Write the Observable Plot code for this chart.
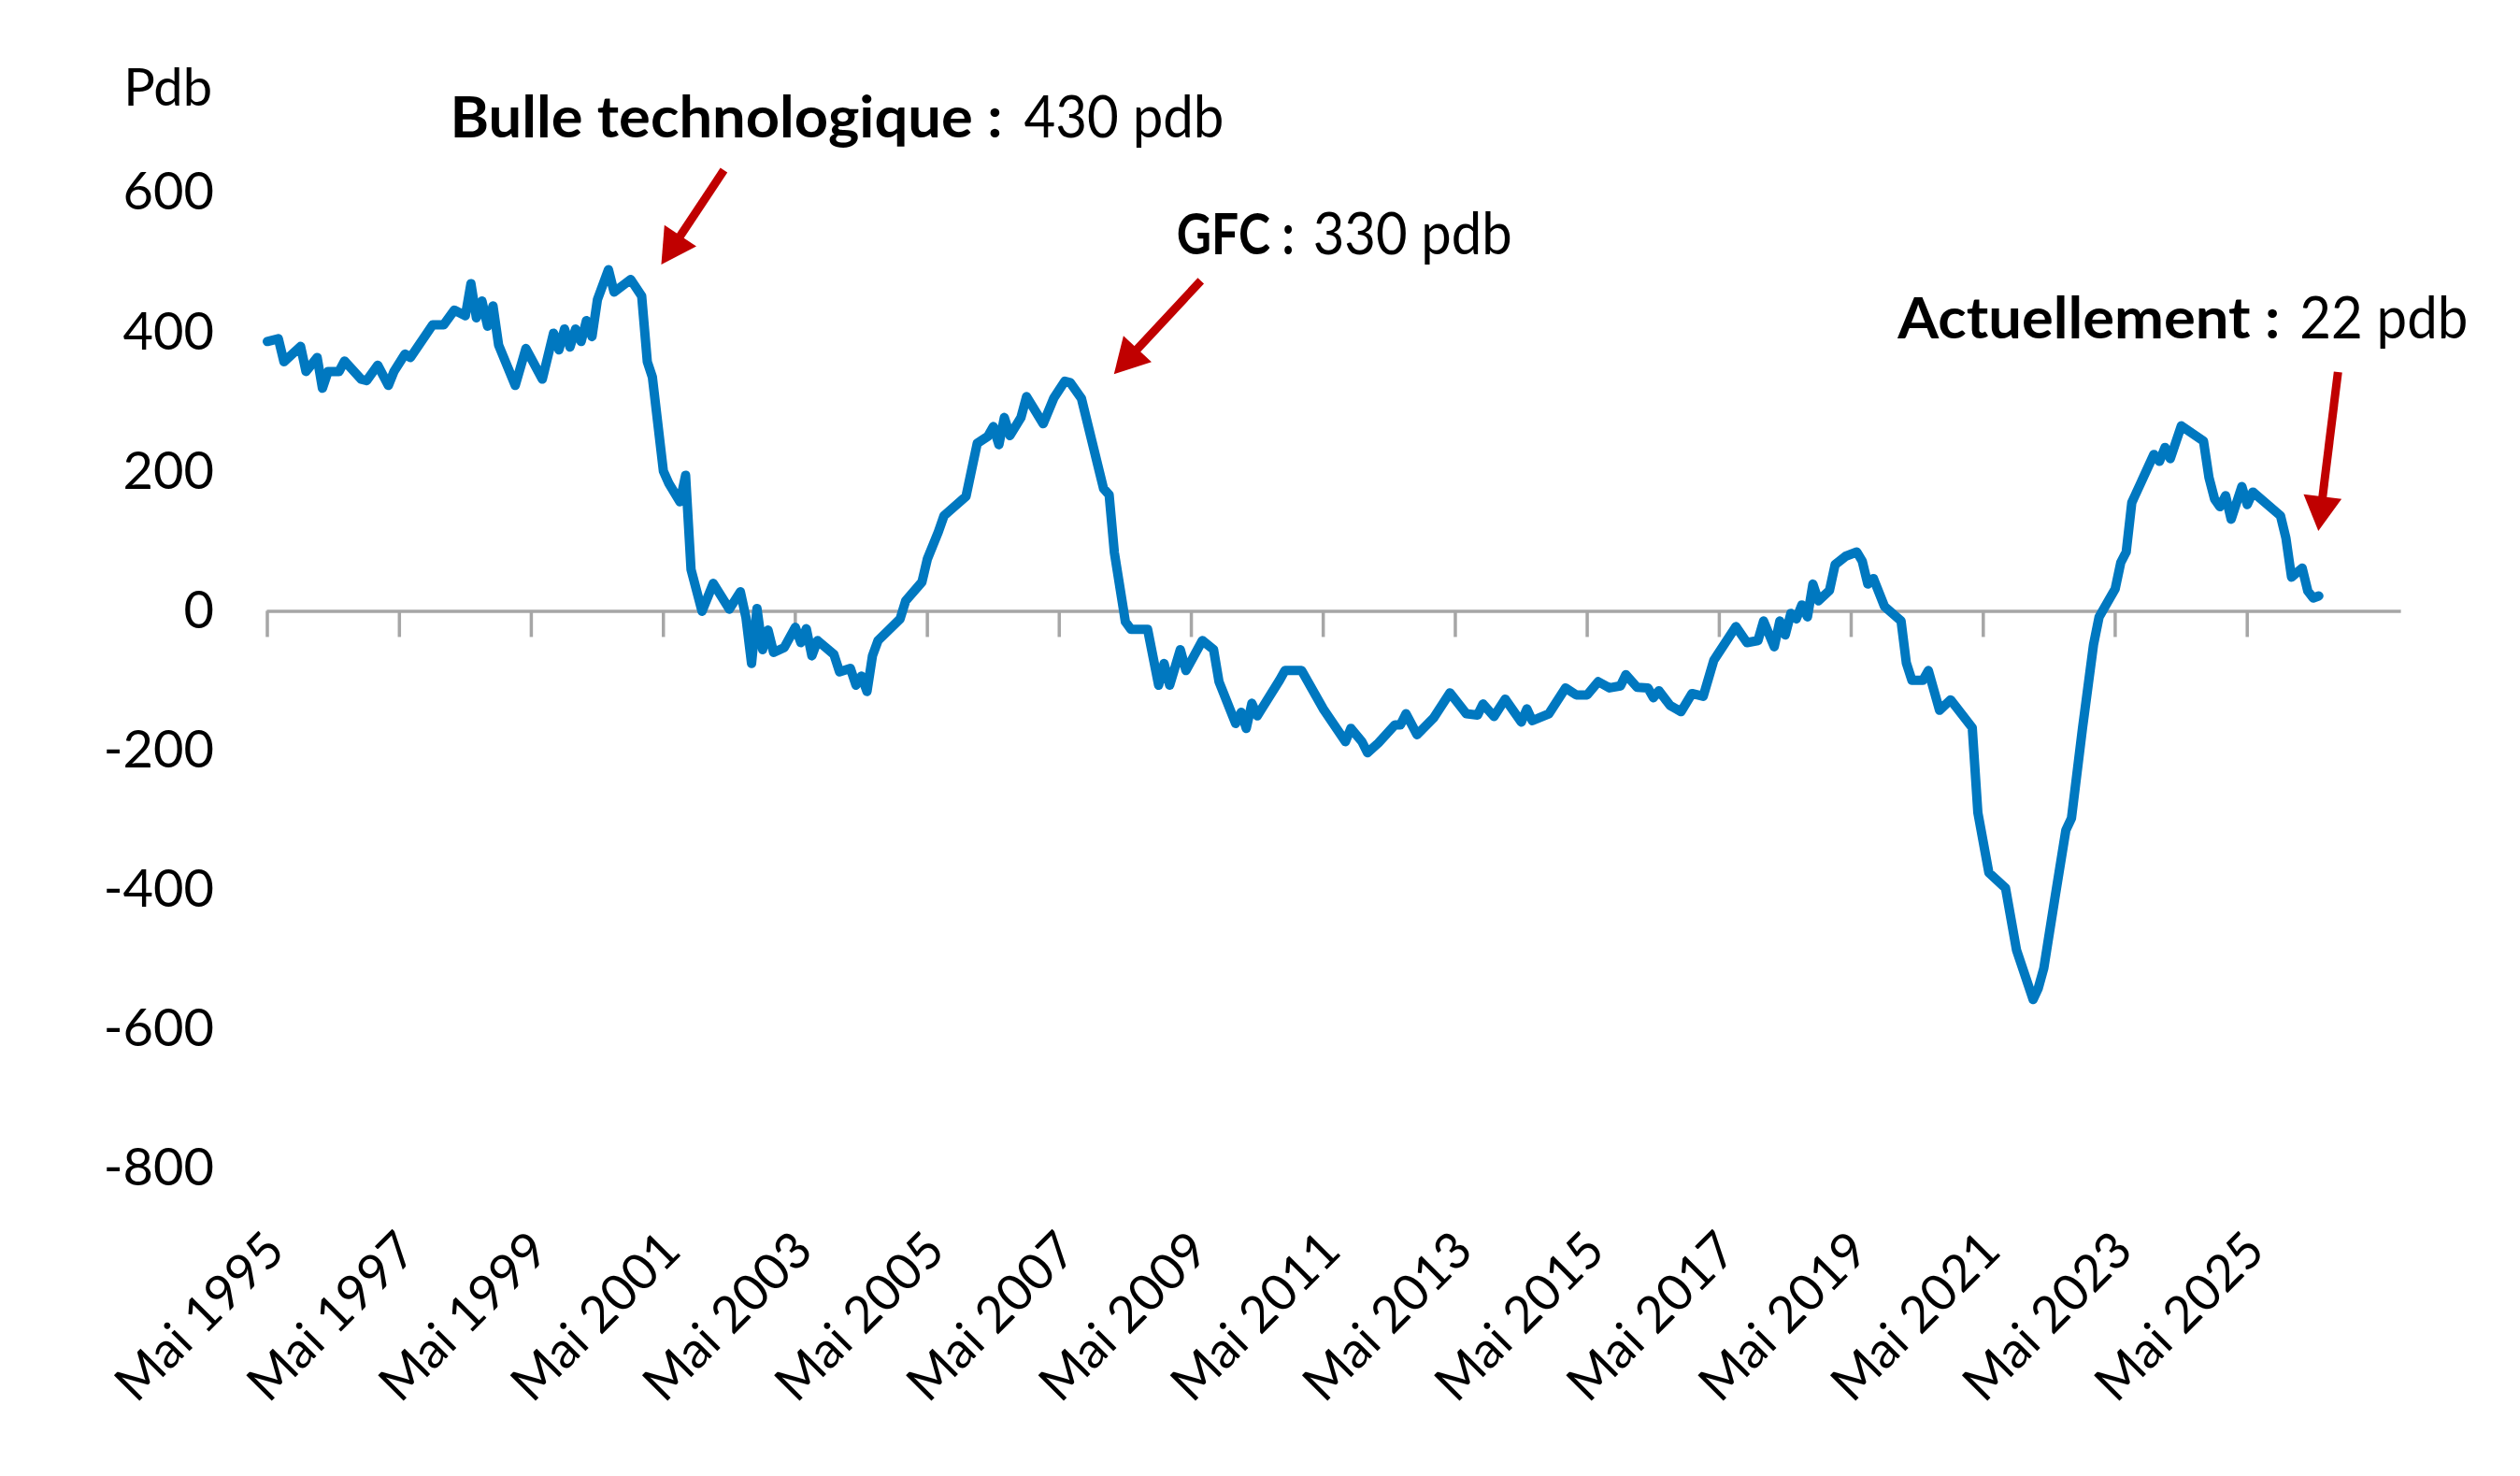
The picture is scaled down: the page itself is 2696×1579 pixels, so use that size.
<!DOCTYPE html>
<html lang="fr">
<head>
<meta charset="utf-8">
<title>Écart en pdb depuis 1995</title>
<script src="https://cdn.jsdelivr.net/npm/d3@7"></script>
<script src="https://cdn.jsdelivr.net/npm/@observablehq/plot@0.6"></script>
<style>
  html, body { margin: 0; padding: 0; background: #ffffff; }
  #chart svg { display: block; }
</style>
</head>
<body>
<div id="chart"></div>
<script>
// Monthly spread, in basis points (pdb)
const months = [
  "1995-05","1995-07","1995-08","1995-11","1995-12","1996-02","1996-03","1996-04","1996-06","1996-07",
  "1996-10","1996-11","1997-01","1997-03","1997-04","1997-06","1997-07","1997-11","1998-01","1998-03",
  "1998-05","1998-06","1998-07","1998-08","1998-09","1998-10","1998-11","1999-02","1999-04","1999-07",
  "1999-09","1999-10","1999-11","1999-12","2000-01","2000-02","2000-03","2000-04","2000-05","2000-07",
  "2000-08","2000-11","2001-01","2001-02","2001-03","2001-05","2001-06","2001-08","2001-09","2001-10",
  "2001-12","2002-02","2002-05","2002-07","2002-08","2002-09","2002-10","2002-11","2002-12","2003-01",
  "2003-03","2003-05","2003-06","2003-07","2003-08","2003-09","2003-12","2004-01","2004-03","2004-04",
  "2004-05","2004-06","2004-07","2004-08","2004-12","2005-01","2005-04","2005-05","2005-07","2005-08",
  "2005-12","2006-02","2006-04","2006-05","2006-06","2006-07","2006-08","2006-10","2006-11","2007-02",
  "2007-04","2007-06","2007-07","2007-09","2008-01","2008-02","2008-03","2008-05","2008-06","2008-09",
  "2008-11","2008-12","2009-01","2009-03","2009-04","2009-07","2009-09","2009-10","2010-01","2010-02",
  "2010-03","2010-04","2010-05","2010-09","2010-10","2011-01","2011-05","2011-09","2011-10","2011-12",
  "2012-01","2012-03","2012-06","2012-07","2012-08","2012-10","2013-01","2013-04","2013-07","2013-09",
  "2013-10","2013-12","2014-02","2014-05","2014-06","2014-07","2014-10","2015-01","2015-03","2015-05",
  "2015-07","2015-09","2015-11","2015-12","2016-02","2016-04","2016-05","2016-06","2016-08","2016-10",
  "2016-12","2017-02","2017-04","2017-08","2017-10","2017-12","2018-01","2018-03","2018-04","2018-05",
  "2018-06","2018-07","2018-08","2018-09","2018-10","2018-11","2019-01","2019-02","2019-04","2019-06",
  "2019-07","2019-08","2019-09","2019-11","2020-02","2020-03","2020-04","2020-06","2020-07","2020-09",
  "2020-11","2021-03","2021-04","2021-06","2021-09","2021-11","2022-02","2022-03","2022-04","2022-06",
  "2022-08","2022-09","2022-11","2023-01","2023-02","2023-05","2023-06","2023-07","2023-08","2023-12",
  "2024-01","2024-02","2024-03","2024-05","2024-09","2024-10","2024-11","2024-12","2025-01","2025-02",
  "2025-04","2025-05","2025-06","2025-11","2025-12","2026-01","2026-03","2026-04","2026-05","2026-06"
];
const spread = [
  387, 391, 358, 380, 344, 364, 320, 344, 344, 359,
  333, 331, 353, 324, 344, 369, 364, 411, 411, 432,
  424, 470, 421, 445, 409, 438, 382, 324, 377, 333,
  399, 375, 405, 379, 405, 387, 417, 394, 447, 490,
  458, 476, 452, 358, 336, 201, 183, 157, 195, 60,
  0, 40, 3, 28, -9, -75, 4, -55, -27, -59,
  -52, -23, -45, -25, -64, -42, -62, -87, -82, -106,
  -93, -115, -64, -42, -11, 15, 42, 75, 114, 137,
  165, 241, 251, 265, 239, 278, 252, 278, 308, 269,
  306, 330, 328, 305, 176, 167, 84, -15, -26, -26,
  -106, -75, -106, -55, -85, -42, -55, -101, -161, -145,
  -168, -132, -150, -99, -85, -85, -140, -187, -168, -187,
  -203, -189, -163, -163, -147, -177, -153, -117, -147, -149,
  -133, -151, -126, -159, -140, -157, -147, -110, -120, -120,
  -101, -110, -107, -91, -109, -110, -124, -114, -135, -144,
  -118, -122, -70, -22, -45, -42, -14, -51, -14, -34,
  -3, -11, 9, -8, 39, 15, 30, 67, 79, 85,
  72, 39, 47, 7, -14, -74, -99, -99, -85, -142,
  -127, -167, -289, -375, -397, -486, -557, -541, -512, -412,
  -314, -297, -168, -48, -8, 32, 70, 85, 156, 225,
  215, 235, 219, 266, 244, 192, 161, 150, 166, 132,
  179, 153, 171, 137, 105, 49, 62, 29, 19, 22
];

// Axis ticks
const yTicks = [600, 400, 200, 0, -200, -400, -600, -800];
const tickYears = [1995, 1997, 1999, 2001, 2003, 2005, 2007, 2009, 2011, 2013, 2015, 2017, 2019, 2021, 2023, 2025];
const tickMonthName = "Mai";
const unitLabel = "Pdb";

// Callouts: the month they point at and their two-part label
const callouts = [
  {month: "2000-07", title: "Bulle technologique :", figure: "430 pdb"},
  {month: "2007-06", title: "GFC :", figure: "330 pdb"},
  {month: "2026-06", title: "Actuellement :", figure: "22 pdb"}
];

// ---- derived table ----
const parseMonth = d3.utcParse("%Y-%m");
const series = months.map((m, i) => ({date: parseMonth(m), value: spread[i]}));
const valueAt = m => spread[months.indexOf(m)];

// ---- styles ----
const BLUE = "#0078C0";
const GREY = "#A6A6A6";
const RED = "#C00000";
const FONT = "Lato, 'Open Sans', 'Liberation Sans', sans-serif";

// Pixel placement of each callout, relative to the point it refers to
const calloutLayout = [
  {titleDx: -169, titleW: 591, figureDx: 445, figureW: 214, dy: -141, tail: [124, -106], tip: [57, -5]},
  {titleDx: 120, titleW: 126, figureDx: 266, figureW: 213, dy: -135, tail: [146, -107], tip: [53, -7]},
  {titleDx: -450, titleW: 409, figureDx: -20, figureW: 180, dy: -275, tail: [21, -239], tip: [0, -69]}
];

function calloutMark(note, layout) {
  return (index, scales) => {
    const px = scales.x(parseMonth(note.month));
    const py = scales.y(valueAt(note.month));
    const g = d3.create("svg:g").attr("text-anchor", "start");

    // arrow: straight shaft with a filled triangular head
    const tx = px + layout.tail[0], ty = py + layout.tail[1];
    const hx = px + layout.tip[0], hy = py + layout.tip[1];
    const len = Math.hypot(hx - tx, hy - ty);
    const ux = (hx - tx) / len, uy = (hy - ty) / len;
    const headLen = 37, headW = 41, shaftW = 9;
    const bx = hx - ux * headLen, by = hy - uy * headLen;
    g.append("line")
      .attr("x1", tx).attr("y1", ty)
      .attr("x2", bx + ux * 4).attr("y2", by + uy * 4)
      .attr("stroke", RED).attr("stroke-width", shaftW);
    g.append("path")
      .attr("d", `M${hx},${hy}L${bx - uy * headW / 2},${by + ux * headW / 2}L${bx + uy * headW / 2},${by - ux * headW / 2}Z`)
      .attr("fill", RED);

    // two-part label: bold title, regular figure
    const base = py + layout.dy;
    g.append("text")
      .attr("x", px + layout.titleDx).attr("y", base)
      .attr("text-anchor", "start")
      .attr("font-family", FONT).attr("font-size", 62).attr("font-weight", "bold")
      .attr("textLength", layout.titleW).attr("lengthAdjust", "spacingAndGlyphs")
      .attr("fill", "#000")
      .text(note.title);
    g.append("text")
      .attr("x", px + layout.figureDx).attr("y", base)
      .attr("text-anchor", "start")
      .attr("font-family", FONT).attr("font-size", 62).attr("font-weight", "normal")
      .attr("textLength", layout.figureW).attr("lengthAdjust", "spacingAndGlyphs")
      .attr("fill", "#000")
      .text(note.figure);
    return g.node();
  };
}

const tickDate = y => new Date(Date.UTC(y, 4, 1));

const chart = Plot.plot({
  width: 2696,
  height: 1579,
  marginLeft: 285.5,
  marginRight: 127.4,
  marginTop: 206,
  marginBottom: 329,
  style: {fontFamily: FONT, fontSize: "56px", color: "#000", background: "#fff", overflow: "visible"},
  x: {type: "utc", domain: [new Date(Date.UTC(1995, 4, 1)), new Date(Date.UTC(2027, 8, 1))], axis: null},
  y: {domain: [-800, 600], axis: null},
  marks: [
    // y tick labels and unit
    Plot.axisY(yTicks, {tickSize: 0, tickPadding: 57, fontSize: 56, tickFormat: d => String(d), label: null}),
    Plot.text([unitLabel], {frameAnchor: "top-left", text: d => d, dx: -59, dy: -94, textAnchor: "end", lineAnchor: "bottom", fontSize: 56}),

    // zero line acting as the category axis, with its tick marks
    Plot.ruleY([0], {stroke: GREY, strokeWidth: 3.5}),
    Plot.ruleX(tickYears, {x: tickDate, y1: 0, y2: 0, insetBottom: -28, stroke: GREY, strokeWidth: 3.5}),

    // rotated date labels along the bottom
    Plot.text(tickYears, {
      x: tickDate, frameAnchor: "bottom", text: y => `${tickMonthName} ${y}`,
      rotate: -45, textAnchor: "end", lineAnchor: "middle", dx: 9, dy: 78, fontSize: 54
    }),

    // the series
    Plot.line(series, {x: "date", y: "value", stroke: BLUE, strokeWidth: 10, strokeLinejoin: "round", strokeLinecap: "round"}),

    // annotations
    ...callouts.map((c, i) => calloutMark(c, calloutLayout[i]))
  ]
});

document.getElementById("chart").append(chart);
</script>
</body>
</html>
